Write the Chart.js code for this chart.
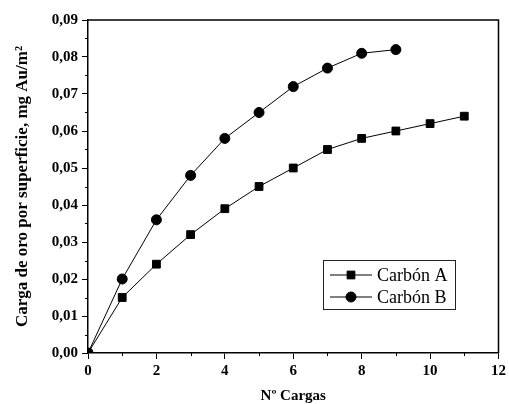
<!DOCTYPE html>
<html>
<head>
<meta charset="utf-8">
<script src="https://cdn.jsdelivr.net/npm/chart.js@4/dist/chart.umd.min.js"></script>
<style>
  html, body { margin: 0; padding: 0; background: #fff; }
  #contenedor { width: 509px; height: 404px; }
</style>
</head>
<body>
<div id="contenedor"><canvas id="graficaOro"></canvas></div>
<script>
// Datos
const cargasA = [0, 1, 2, 3, 4, 5, 6, 7, 8, 9, 10, 11];
const carbonA = [0, 0.015, 0.024, 0.032, 0.039, 0.045, 0.050, 0.055, 0.058, 0.060, 0.062, 0.064];
const cargasB = [0, 1, 2, 3, 4, 5, 6, 7, 8, 9];
const carbonB = [0, 0.020, 0.036, 0.048, 0.058, 0.065, 0.072, 0.077, 0.081, 0.082];
const ticksX = [0, 2, 4, 6, 8, 10, 12];
const ticksY = [0, 0.01, 0.02, 0.03, 0.04, 0.05, 0.06, 0.07, 0.08, 0.09];
const menoresX = [1, 3, 5, 7, 9, 11];
const menoresY = [0.005, 0.015, 0.025, 0.035, 0.045, 0.055, 0.065, 0.075, 0.085];

const fuenteSerif = "'Liberation Serif', 'Times New Roman', serif";

// Marco superior/derecho, ticks menores y leyenda con recuadro
const marcoPlugin = {
    id: 'marco',
    afterDraw(chart) {
        const ctx = chart.ctx;
        const area = chart.chartArea;
        const sx = chart.scales.x;
        const sy = chart.scales.y;
        ctx.save();
        ctx.strokeStyle = '#000';
        ctx.lineWidth = 1.5;
        ctx.beginPath();
        ctx.moveTo(area.left, area.top);
        ctx.lineTo(area.right, area.top);
        ctx.lineTo(area.right, area.bottom);
        ctx.stroke();

        ctx.lineWidth = 1;
        ctx.beginPath();
        menoresX.forEach(v => {
            const px = Math.round(sx.getPixelForValue(v)) + 0.5;
            ctx.moveTo(px, area.bottom);
            ctx.lineTo(px, area.bottom + 3);
        });
        menoresY.forEach(v => {
            const py = Math.round(sy.getPixelForValue(v)) + 0.5;
            ctx.moveTo(area.left, py);
            ctx.lineTo(area.left - 3, py);
        });
        ctx.stroke();

        // Leyenda
        const lx = 323, ly = 260, lw = 132, lh = 49;
        ctx.lineWidth = 1;
        ctx.strokeStyle = '#222';
        ctx.strokeRect(lx + 0.5, ly + 0.5, lw, lh);
        ctx.font = '18px ' + fuenteSerif;
        ctx.textBaseline = 'middle';
        ctx.fillStyle = '#000';
        chart.data.datasets.forEach((ds, i) => {
            const y = ly + 15 + i * 22;
            ctx.strokeStyle = '#000';
            ctx.beginPath();
            ctx.moveTo(lx + 7, y);
            ctx.lineTo(lx + 49, y);
            ctx.stroke();
            Chart.helpers.drawPoint(ctx, {
                pointStyle: ds.pointStyle,
                radius: ds.pointRadius,
                borderWidth: 1
            }, lx + 28, y);
            ctx.fillStyle = '#000';
            ctx.fillText(ds.label, lx + 54, y + 1);
        });
        ctx.restore();
    }
};

const ctx = document.getElementById('graficaOro').getContext('2d');
new Chart(ctx, {
    type: 'line',
    data: {
        datasets: [{
            label: 'Carbón A',
            data: cargasA.map((x, i) => ({ x: x, y: carbonA[i] })),
            borderColor: '#000',
            backgroundColor: '#000',
            borderWidth: 1,
            pointStyle: 'rect',
            pointRadius: 5.5,
            pointBorderWidth: 1,
            tension: 0
        }, {
            label: 'Carbón B',
            data: cargasB.map((x, i) => ({ x: x, y: carbonB[i] })),
            borderColor: '#000',
            backgroundColor: '#000',
            borderWidth: 1,
            pointStyle: 'circle',
            pointRadius: 5,
            pointBorderWidth: 1,
            tension: 0
        }]
    },
    options: {
        responsive: true,
        maintainAspectRatio: false,
        animation: false,
        layout: { padding: { top: 20, right: 10, bottom: 0, left: 0 } },
        plugins: {
            legend: { display: false },
            tooltip: { enabled: false }
        },
        scales: {
            x: {
                type: 'linear',
                min: 0,
                max: 12,
                afterBuildTicks: s => { s.ticks = ticksX.map(v => ({ value: v })); },
                afterFit: s => { s.height = 51; },
                border: { color: '#000', width: 1.5 },
                grid: { drawOnChartArea: false, drawTicks: true, tickLength: 6, tickColor: '#000' },
                ticks: {
                    color: '#000',
                    padding: 3,
                    font: { family: fuenteSerif, size: 15, weight: 'bold' },
                    callback: v => String(v)
                },
                title: {
                    display: true,
                    text: 'Nº Cargas',
                    color: '#000',
                    padding: { top: 0, bottom: 0 },
                    font: { family: fuenteSerif, size: 15, weight: 'bold', lineHeight: 1 }
                }
            },
            y: {
                type: 'linear',
                min: 0,
                max: 0.09,
                afterBuildTicks: s => { s.ticks = ticksY.map(v => ({ value: v })); },
                afterFit: s => { s.width = 88; },
                border: { color: '#000', width: 1.5 },
                grid: { drawOnChartArea: false, drawTicks: true, tickLength: 6, tickColor: '#000' },
                ticks: {
                    color: '#000',
                    padding: 4,
                    font: { family: fuenteSerif, size: 15, weight: 'bold' },
                    callback: v => v.toFixed(2).replace('.', ',')
                },
                title: {
                    display: true,
                    text: 'Carga de oro por superficie, mg Au/m²',
                    color: '#000',
                    padding: { top: 12, bottom: 0 },
                    font: { family: fuenteSerif, size: 17, weight: 'bold' }
                }
            }
        }
    },
    plugins: [marcoPlugin]
});
</script>
</body>
</html>
